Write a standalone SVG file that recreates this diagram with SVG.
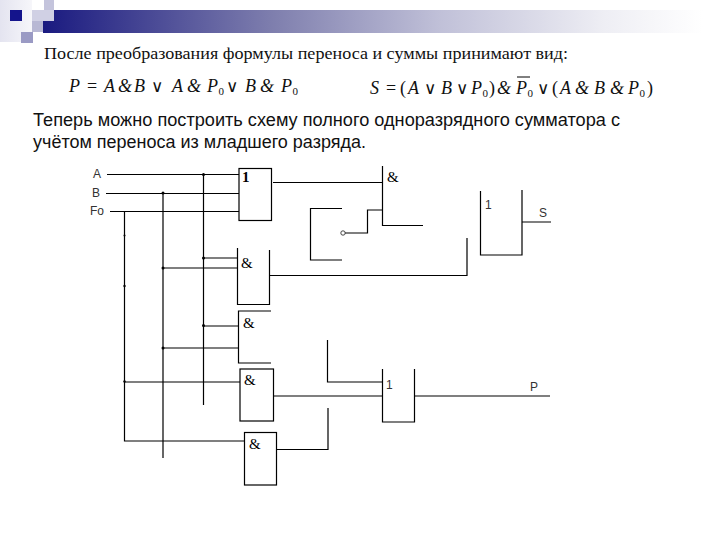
<svg xmlns="http://www.w3.org/2000/svg" width="720" height="540" viewBox="0 0 720 540">
<style>
.w{fill:none;stroke:#000;stroke-width:1.2}
.t{font-family:"Liberation Serif",serif;fill:#111}
.a{font-family:"Liberation Sans",sans-serif;fill:#111}
.f{font-family:"Liberation Serif",serif;font-style:italic;font-size:18px;fill:#111}
.o{font-family:"DejaVu Sans",sans-serif;font-style:normal;font-size:17px;font-weight:normal}
.n{font-style:normal}
.s{font-size:11px;font-style:normal}
.l{font-family:"Liberation Sans",sans-serif;font-size:12px;fill:#333}
.g{font-family:"Liberation Serif",serif;font-size:15px;fill:#000}
</style>
<defs>
<linearGradient id="bar" x1="0" x2="1" y1="0" y2="0">
<stop offset="0" stop-color="#1a1a80"/><stop offset=".35" stop-color="#7f7fae"/><stop offset=".6" stop-color="#c0c0d8"/><stop offset=".85" stop-color="#eeeef4"/><stop offset="1" stop-color="#fff"/>
</linearGradient>
<linearGradient id="fade" x1="0" x2="1" y1="0" y2="0">
<stop offset="0" stop-color="#e4e4f0"/><stop offset="1" stop-color="#f6f6fa"/>
</linearGradient>
</defs>
<rect width="720" height="540" fill="#fff"/>
<g id="decor">
<rect x="43" y="10" width="660" height="23" fill="url(#bar)"/>
<rect x="0" y="0" width="32" height="42" fill="url(#fade)"/>
<rect x="44" y="0" width="10" height="21" fill="#c4c4dc"/>
<rect x="32" y="10" width="22" height="11" fill="#d0d0e4"/>
<rect x="32" y="21" width="11" height="11" fill="#b8b8d4"/>
<rect x="21" y="32" width="12" height="11" fill="#9a9ac4"/>
<rect x="10" y="10" width="12" height="11" fill="#14148c"/>
</g>
<g id="texts">
<text class="t" x="44" y="59" font-size="17" textLength="524" lengthAdjust="spacingAndGlyphs">После преобразования формулы переноса и суммы принимают вид:</text>
<text class="f" y="92"><tspan x="69">P</tspan><tspan x="87" class="n">=</tspan><tspan x="104">A</tspan><tspan x="118">&amp;</tspan><tspan x="134">B</tspan><tspan x="151" class="o">∨</tspan><tspan x="172">A</tspan><tspan x="187">&amp;</tspan><tspan x="207">P</tspan><tspan x="218.500" dy="3" class="s">0</tspan><tspan x="226" dy="-3" class="o">∨</tspan><tspan x="245">B</tspan><tspan x="260">&amp;</tspan><tspan x="281">P</tspan><tspan x="292.500" dy="3" class="s">0</tspan></text>
<text class="f" y="94"><tspan x="370">S</tspan><tspan x="386" class="n">=</tspan><tspan x="400" class="n">(</tspan><tspan x="408">A</tspan><tspan x="424" class="o">∨</tspan><tspan x="441">B</tspan><tspan x="456" class="o">∨</tspan><tspan x="471">P</tspan><tspan x="482.500" dy="3" class="s">0</tspan><tspan x="489" dy="-3" class="n">)</tspan><tspan x="497">&amp;</tspan><tspan x="516">P</tspan><tspan x="527.500" dy="3" class="s">0</tspan><tspan x="537" dy="-3" class="o">∨</tspan><tspan x="552" class="n">(</tspan><tspan x="560">A</tspan><tspan x="575">&amp;</tspan><tspan x="594">B</tspan><tspan x="610">&amp;</tspan><tspan x="628">P</tspan><tspan x="639.500" dy="3" class="s">0</tspan><tspan x="647" dy="-3" class="n">)</tspan></text>
<path d="M517 77H530" stroke="#000" stroke-width="1" fill="none"/>
<text class="a" x="33" y="126" font-size="17.5" textLength="587" lengthAdjust="spacingAndGlyphs">Теперь можно построить схему полного одноразрядного сумматора с</text>
<text class="a" x="33" y="148" font-size="17.5" textLength="333" lengthAdjust="spacingAndGlyphs">учётом переноса из младшего разряда.</text>
</g>
<g id="connectors" class="w">
<path d="M107 174.500H239M106 193.500H239M110 211.500H239"/>
<path d="M124.500 211V441H244.500M163 193V458M203.500 174V405"/>
<path d="M273 182.500H382.500"/>
<path d="M203.500 258H237.500M163 268H237.500M270 275.500H467V238"/>
<path d="M203.500 326H238.500M163 348H238.500"/>
<path d="M124.500 382H240M273.500 396H382.500M277 449.500H328V408M327.500 340V382H382.500"/>
<path d="M345 233H367.500V210H382.500"/>
<path d="M522 222H551M415 396H550"/>
</g>
<g id="junctions" fill="#000">
<circle cx="203.500" cy="174.500" r="1.500"/><circle cx="163" cy="193" r="1.500"/>
<circle cx="203.500" cy="258" r="1.500"/><circle cx="163" cy="268" r="1.500"/>
<circle cx="203.500" cy="325.500" r="1.500"/><circle cx="163" cy="348" r="1.500"/>
<circle cx="124.500" cy="286" r="1.200"/><circle cx="124.500" cy="235.500" r="1"/><circle cx="124.500" cy="381.500" r="1.200"/>
</g>
<g id="input-labels">
<text class="l" x="93" y="178">A</text><text class="l" x="92" y="197">B</text><text class="l" x="90" y="215">Fo</text>
</g>
<g id="or1"><rect class="w" x="239" y="168.500" width="32.500" height="52"/><text class="g" x="242" y="182" font-weight="bold">1</text></g>
<g id="and2"><path class="w" d="M237.500 248V304.500H269.500V250"/><text class="g" x="241" y="268">&amp;</text></g>
<g id="and3"><path class="w" d="M271 311H238.500V363H271"/><text class="g" x="243" y="328">&amp;</text></g>
<g id="and4"><rect class="w" x="240" y="369" width="33.500" height="52"/><text class="g" x="244" y="385">&amp;</text></g>
<g id="and5"><rect class="w" x="244.500" y="432.500" width="32" height="52.500"/><text class="g" x="249" y="449">&amp;</text></g>
<g id="not-box"><path class="w" d="M342 208.500H310.500V260H342"/></g>
<g id="inv"><circle cx="343" cy="233" r="2.200" fill="none" stroke="#333" stroke-width=".9"/></g>
<g id="and1"><path class="w" d="M382.500 166V225.500H423"/><text class="g" x="387" y="182">&amp;</text></g>
<g id="or2"><path class="w" d="M480.500 191V255H522V190"/><text class="l" x="485" y="209">1</text></g>
<g id="or3"><path class="w" d="M382.500 369V422H414.500V369"/><text class="l" x="386" y="389" font-size="13">1</text></g>
<g id="out-s"><text class="l" x="539" y="217" font-size="13">S</text></g>
<g id="out-p"><text class="l" x="530" y="391" font-size="13">P</text></g>
</svg>
